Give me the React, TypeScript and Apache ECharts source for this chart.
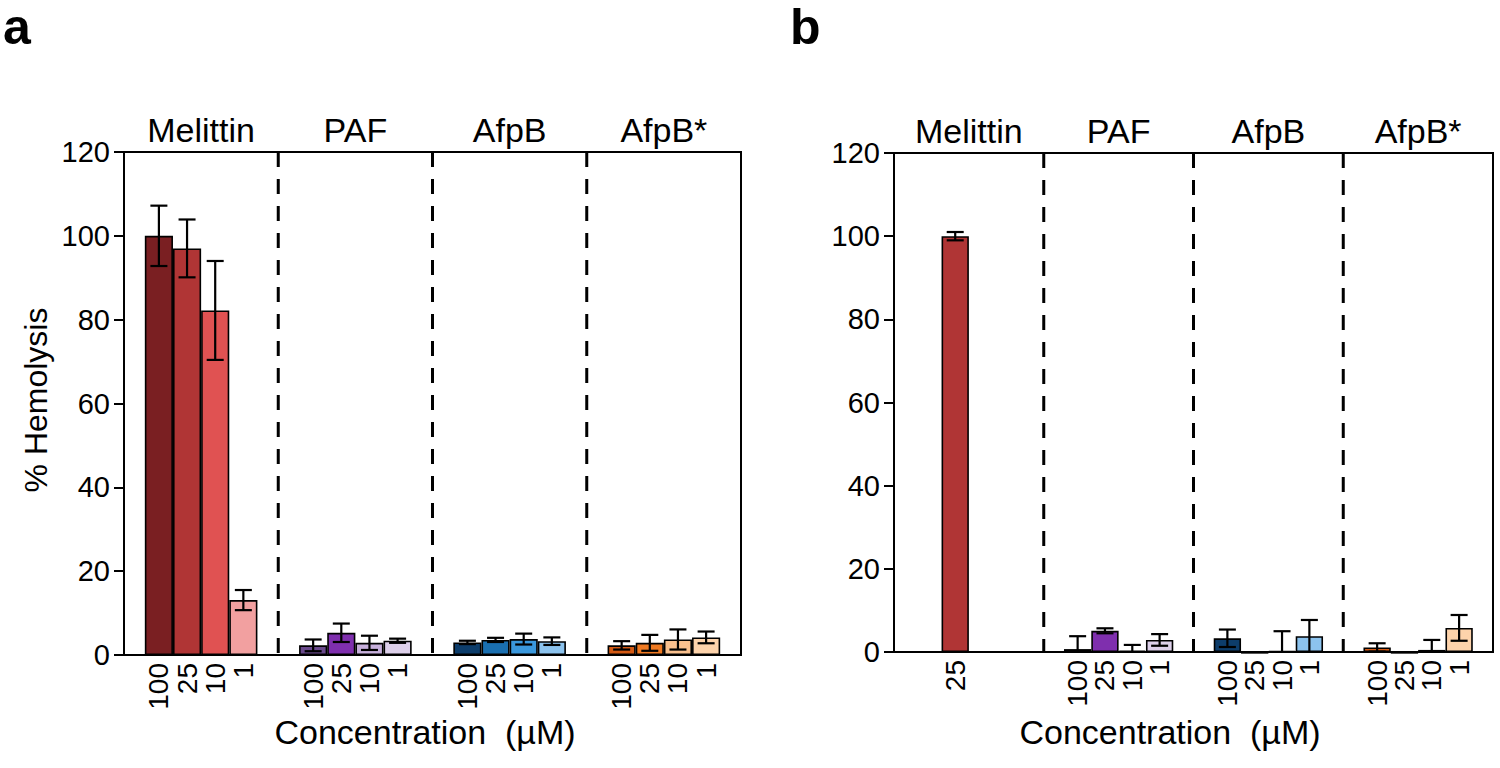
import React, { useEffect, useRef } from "react";
import * as echarts from "echarts";

const groups = ["Melittin", "PAF", "AfpB", "AfpB*"];
const concLabels = ["100", "25", "10", "1"];

const groupColors = [
  ["#7a1f22", "#b03535", "#e05252", "#f2a0a0"],
  ["#6a4a8c", "#7f2fae", "#c7b0dc", "#ddd0ea"],
  ["#0d3d6b", "#1a6fb0", "#3a98dd", "#8cc3ee"],
  ["#d45a14", "#f07a22", "#f9c08e", "#fdd3ab"],
];

// Panel a (means, errors) per group, order: 100, 25, 10, 1 µM
const aMelittin = [100, 97, 82.2, 13.1];
const aMelittinErr = [7.2, 6.9, 11.8, 2.4];
const aPAF = [2.3, 5.3, 2.9, 3.4];
const aPAFErr = [1.4, 2.2, 1.7, 0.5];
const aAfpB = [3.0, 3.6, 3.8, 3.3];
const aAfpBErr = [0.4, 0.5, 1.3, 0.9];
const aAfpBs = [2.3, 2.9, 3.7, 4.2];
const aAfpBsErr = [1.0, 1.9, 2.4, 1.4];

// Panel b
const bMelittin = [null, 100, null, null];
const bMelittinErr = [null, 1.0, null, null];
const bPAF = [0.7, 5.1, 0.3, 2.9];
const bPAFErr = [3.1, 0.6, 1.4, 1.4];
const bAfpB = [3.3, -0.4, 0.2, 3.8];
const bAfpBErr = [2.1, 0, 4.8, 3.9];
const bAfpBs = [1.1, -0.4, 0.5, 5.8];
const bAfpBsErr = [1.0, 0, 2.4, 3.1];

const yTicks = { min: 0, max: 120, interval: 20 };

const FONT = "Liberation Sans, Arial, sans-serif";
const GAP = 0.27;

function barSeries(axis: number, means: (number | null)[][]) {
  return concLabels.map((_, s) => ({
    type: "bar",
    name: "p" + axis + "s" + s,
    xAxisIndex: axis,
    yAxisIndex: axis,
    barGap: "0%",
    barCategoryGap: GAP * 100 + "%",
    clip: false,
    data: groups.map((_, gi) => {
      const v = means[gi][s];
      return v === null
        ? "-"
        : {
            value: v,
            itemStyle: {
              color: groupColors[gi][s],
              borderColor: "#000",
              borderWidth: 1.6,
            },
          };
    }),
  }));
}

function dividerSeries(axis: number) {
  // dashed separators at the left boundary of every group except the first
  const items = groups.slice(1).map((_, i) => [i + 1, yTicks.max]);
  return {
    type: "custom",
    xAxisIndex: axis,
    yAxisIndex: axis,
    z: 1,
    clip: false,
    encode: { x: 0, y: 1 },
    data: items,
    renderItem: (params: any, api: any) => {
      const g = api.value(0);
      const band = api.size([1, 0])[0];
      const top = api.coord([g, yTicks.max]);
      const bot = api.coord([g, yTicks.min]);
      const x = top[0] - band / 2;
      return {
        type: "line",
        shape: { x1: x, y1: top[1], x2: x, y2: bot[1] },
        style: { stroke: "#000", lineWidth: 3, lineDash: [15, 12] },
      };
    },
  };
}

function errSeries(axis: number, means: (number | null)[][], errs: (number | null)[][]) {
  const items: number[][] = [];
  means.forEach((arr, gi) =>
    arr.forEach((v, s) => {
      if (v !== null) items.push([gi, v, s, errs[gi][s] || 0]);
    })
  );
  return {
    type: "custom",
    xAxisIndex: axis,
    yAxisIndex: axis,
    z: 5,
    clip: false,
    encode: { x: 0, y: 1 },
    data: items,
    renderItem: (params: any, api: any) => {
      const g = api.value(0);
      const v = api.value(1);
      const s = api.value(2);
      const e = api.value(3);
      const band = api.size([1, 0])[0];
      const bw = (band * (1 - GAP)) / 4;
      const base = api.coord([g, 0]);
      const cx = base[0] + (s - 1.5) * bw;
      const y0 = base[1];
      const children: any[] = [];
      const ls = { stroke: "#000", lineWidth: 2.2 };
      if (e > 0) {
        const hi = api.coord([g, v + e])[1];
        const lo = api.coord([g, Math.max(0, v - e)])[1];
        children.push({ type: "line", shape: { x1: cx, y1: hi, x2: cx, y2: lo }, style: ls });
        children.push({ type: "line", shape: { x1: cx - 8.5, y1: hi, x2: cx + 8.5, y2: hi }, style: ls });
        if (v - e > 0) {
          children.push({ type: "line", shape: { x1: cx - 8.5, y1: lo, x2: cx + 8.5, y2: lo }, style: ls });
        }
      }
      children.push({
        type: "text",
        x: cx,
        y: y0 + 8,
        rotation: Math.PI / 2,
        style: {
          text: concLabels[s],
          fill: "#000",
          fontSize: 28,
          fontFamily: FONT,
          align: "right",
          verticalAlign: "middle",
        },
      });
      return { type: "group", children };
    },
  };
}

export default function App() {
  const ref = useRef<HTMLDivElement>(null);
  useEffect(() => {
    if (!ref.current) return;
    const chart = echarts.init(ref.current, null, { renderer: "svg" });
    const aMeans = [aMelittin, aPAF, aAfpB, aAfpBs];
    const aErrs = [aMelittinErr, aPAFErr, aAfpBErr, aAfpBsErr];
    const bMeans = [bMelittin, bPAF, bAfpB, bAfpBs];
    const bErrs = [bMelittinErr, bPAFErr, bAfpBErr, bAfpBsErr];

    const xAxisCfg = (i: number) => ({
      type: "category",
      gridIndex: i,
      data: groups,
      position: "top",
      axisLine: { show: false },
      axisTick: { show: false },
      axisLabel: {
        show: true,
        interval: 0,
        fontSize: 34,
        fontFamily: FONT,
        color: "#000",
        margin: 5,
      },
      splitLine: { show: false },
    });
    const yAxisCfg = (i: number) => ({
      type: "value",
      gridIndex: i,
      min: yTicks.min,
      max: yTicks.max,
      interval: yTicks.interval,
      axisLine: { show: true, lineStyle: { color: "#000", width: 2 } },
      axisTick: { show: true, inside: false, length: 10, lineStyle: { color: "#000", width: 2 } },
      axisLabel: { fontSize: 29, fontFamily: FONT, color: "#000", margin: 14 },
      splitLine: { show: false },
    });

    chart.setOption({
      animation: false,
      backgroundColor: "#fff",
      grid: [
        { left: 124, top: 152, width: 617, height: 503, show: true, borderColor: "#000", borderWidth: 2, containLabel: false },
        { left: 894, top: 153, width: 599, height: 499, show: true, borderColor: "#000", borderWidth: 2, containLabel: false },
      ],
      xAxis: [xAxisCfg(0), xAxisCfg(1)],
      yAxis: [yAxisCfg(0), yAxisCfg(1)],
      series: [
        dividerSeries(0),
        dividerSeries(1),
        ...barSeries(0, aMeans),
        ...barSeries(1, bMeans),
        errSeries(0, aMeans, aErrs),
        errSeries(1, bMeans, bErrs),
      ],
      graphic: [
        { type: "text", left: 3, top: 2, style: { text: "a", fontSize: 50, fontWeight: "bold", fontFamily: FONT, fill: "#000" } },
        { type: "text", left: 790, top: 2, style: { text: "b", fontSize: 50, fontWeight: "bold", fontFamily: FONT, fill: "#000" } },
        {
          type: "text",
          x: 36,
          y: 400,
          rotation: Math.PI / 2,
          style: { text: "% Hemolysis", fontSize: 32, fontFamily: FONT, fill: "#000", align: "center", verticalAlign: "middle" },
        },
        {
          type: "text",
          x: 425,
          y: 732,
          style: { text: "Concentration  (µM)", fontSize: 34, fontFamily: FONT, fill: "#000", align: "center", verticalAlign: "middle" },
        },
        {
          type: "text",
          x: 1170,
          y: 732,
          style: { text: "Concentration  (µM)", fontSize: 34, fontFamily: FONT, fill: "#000", align: "center", verticalAlign: "middle" },
        },
      ],
    });
    return () => chart.dispose();
  }, []);
  return (
    <div
      ref={ref}
      style={{ position: "fixed", left: 0, top: 0, width: 1500, height: 768, background: "#fff" }}
    />
  );
}
